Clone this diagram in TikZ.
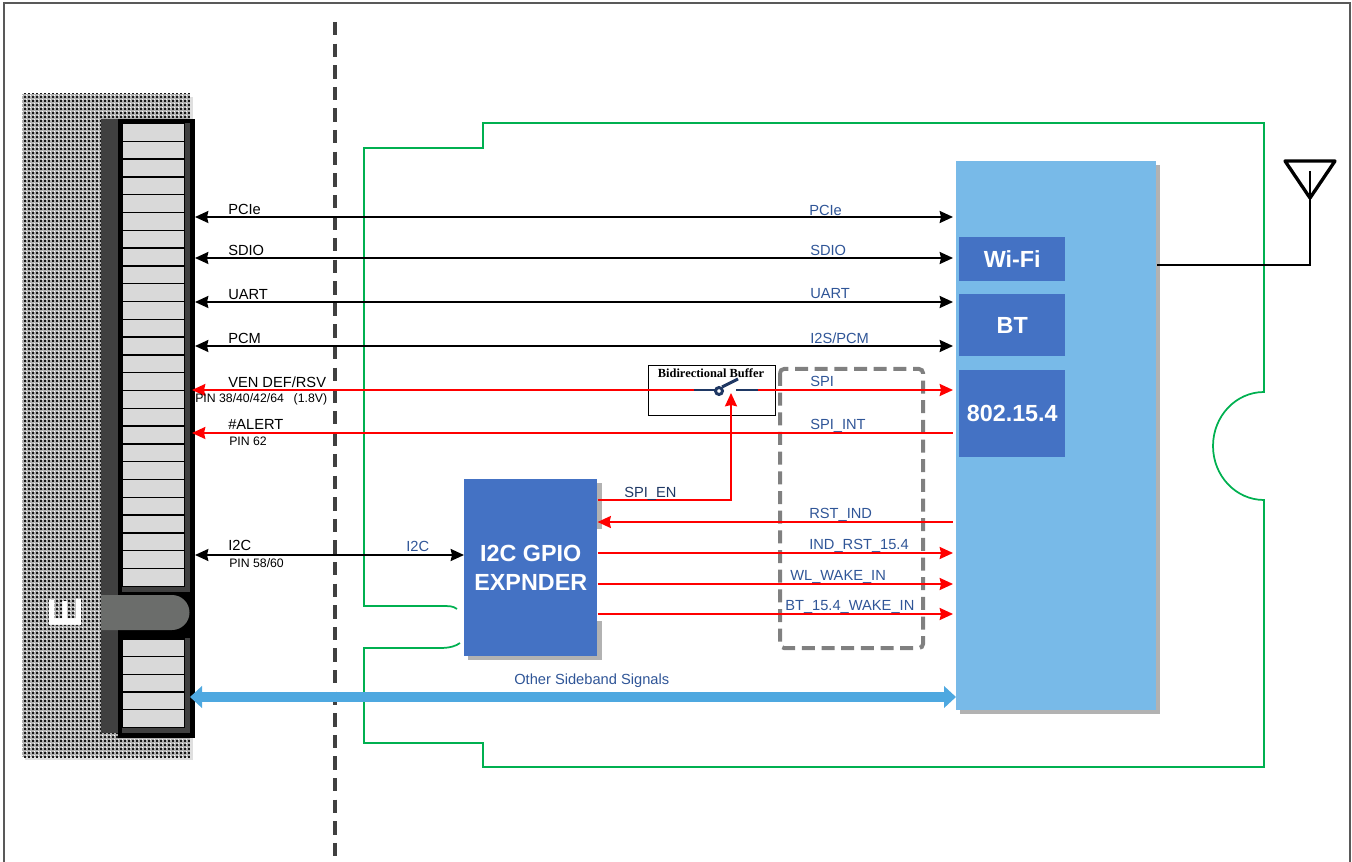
\documentclass[tikz,border=0pt]{standalone}
\usepackage{fontspec}
\setmainfont{Liberation Sans}
\newfontfamily\serifbold{Liberation Serif}
\usetikzlibrary{arrows.meta,patterns}
\definecolor{frameGray}{HTML}{595959}
\definecolor{slotGray}{HTML}{D9D9D9}
\definecolor{keyGray}{HTML}{6B6D6B}
\definecolor{chipBlue}{HTML}{4472C4}
\definecolor{moduleBlue}{HTML}{78BAE8}
\definecolor{busBlue}{HTML}{4EA8E0}
\definecolor{labelBlue}{HTML}{2F5597}
\definecolor{outlineGreen}{HTML}{00B050}
\definecolor{switchNavy}{HTML}{1F3864}
\pgfdeclarepatternformonly{ditherdark}{\pgfqpoint{0pt}{0pt}}{\pgfqpoint{3pt}{3pt}}{\pgfqpoint{3pt}{3pt}}{
	\pgfpathrectangle{\pgfqpoint{0pt}{0pt}}{\pgfqpoint{1.8pt}{1.8pt}}
	\pgfusepath{fill}
}
\pgfdeclarepatternformonly{ditherlight}{\pgfqpoint{0pt}{0pt}}{\pgfqpoint{3pt}{3pt}}{\pgfqpoint{3pt}{3pt}}{
	\pgfpathrectangle{\pgfqpoint{2pt}{2pt}}{\pgfqpoint{0.6pt}{0.6pt}}
	\pgfusepath{fill}
}
\tikzset{
	sig/.style={font=\fontsize{11pt}{12pt}\selectfont, anchor=west, inner sep=0pt},
	blacklabel/.style={sig, black},
	bluelabel/.style={sig, labelBlue},
	pinlabel/.style={font=\fontsize{9.2pt}{10pt}\selectfont, anchor=west, inner sep=0pt},
	chip/.style={fill=chipBlue, text=white, font=\fontsize{17.5pt}{21.75pt}\selectfont\bfseries, align=center, inner sep=0pt, anchor=north west},
	blackbus/.style={<->, line width=1.5pt, black},
	redbus/.style={line width=1.5pt, red},
	slot/.style={fill=slotGray, draw=black, line width=1pt},
	switchline/.style={switchNavy, line width=2.2pt}
}
\begin{document}
\begin{tikzpicture}[x=0.75pt, y=-0.75pt, line join=miter, >={Stealth[length=10pt, width=9pt, inset=1pt]}]
	\useasboundingbox (0,0) rectangle (1352,862);
	% Khung ngoai
	\draw[frameGray, line width=2pt] (4,862) -- (4,3) -- (1350,3) -- (1350,862);
	% Duong phan cach
	\draw[black!75, line width=3.2pt, dash pattern=on 10pt off 6.2pt] (335,22) -- (335,862);
	% Dau noi M.2
	\fill[gray!25] (25,97) rectangle (193,760);
	\fill[gray!60] (22,94) rectangle (190,757);
	\fill[pattern=ditherdark, pattern color=black!90] (22,94) rectangle (190,757);
	\fill[pattern=ditherlight, pattern color=white] (22,94) rectangle (190,757);
	\fill[black!75] (101,119) rectangle (118,733);
	\fill[black] (118,119) rectangle (195,738);
	\fill[black!75] (122,123) rectangle (190,592);
	\fill[black!75] (122,638) rectangle (190,733);
	\foreach \i in {0,...,25}
		\draw[slot] (122.5,{123.5+17.8*\i}) rectangle (184.5,{123.5+17.8*(\i+1)});
	\foreach \i in {0,...,4}
		\draw[slot] (122.5,{639+17.7*\i}) rectangle (184.5,{639+17.7*(\i+1)});
	\fill[keyGray] (101,595) -- (172,595) arc[start angle=-90, end angle=90, radius=17.5] -- (101,630) -- cycle;
	\node[rotate=90, text=white, font=\fontsize{35pt}{35pt}\selectfont\bfseries, inner sep=0pt] (keyE) at (65,613) {E};
	% Vien module
	\draw[outlineGreen, line width=1.3pt] (457,609) .. controls (453,606) and (450,606) .. (440,606) -- (364,606) -- (364,148) -- (483,148) -- (483,123) -- (1264,123) -- (1264,392) arc[start angle=270, end angle=90, x radius=51, y radius=54] -- (1264,767) -- (483,767) -- (483,743) -- (364,743) -- (364,648) -- (440,648) .. controls (450,648) and (456,646) .. (460,643);
	% Khoi WLAN va GPIO
	\fill[gray!60] (960,165) rectangle (1160,714);
	\node[fill=moduleBlue, minimum width=150pt, minimum height=411.75pt, inner sep=0pt, anchor=north west] (wlan) at (956,161) {};
	\node[chip, minimum width=79.5pt, minimum height=33pt] (wifi) at (959,237) {Wi-Fi};
	\node[chip, minimum width=79.5pt, minimum height=46.5pt] (bt) at (959,294) {BT};
	\node[chip, minimum width=79.5pt, minimum height=65.25pt] (zigbee) at (959,370) {802.15.4};
	\fill[gray!60] (468,483) rectangle (602,660);
	\fill[white] (597,529) rectangle (606,621);
	\node[chip, minimum width=99.75pt, minimum height=132.75pt] (gpio) at (464,479) {I2C GPIO\\EXPNDER};
	% Hop dut SPI
	\draw[gray, line width=3pt, rounded corners=3pt, dash pattern=on 9.75pt off 5pt] (780,369) rectangle (923,648);
	% Bo dem hai chieu
	\node[draw=black, line width=1pt, fill=white, minimum width=95.25pt, minimum height=37.5pt, inner sep=0pt, anchor=north west] (buffer) at (648,365) {};
	\node[font=\fontsize{9.3pt}{10pt}\selectfont\serifbold\bfseries, inner sep=0pt] (bufferlabel) at (711,373) {Bidirectional Buffer};
	% Cac toa do dau day
	\coordinate (hostPcie) at (195,217);
	\coordinate (hostSdio) at (195,258);
	\coordinate (hostUart) at (195,302);
	\coordinate (hostPcm) at (195,346);
	\coordinate (hostSpi) at (192,390);
	\coordinate (hostAlert) at (192,433);
	\coordinate (hostIic) at (195,555);
	\coordinate (hostBand) at (190,697);
	\coordinate (swIn) at (694,390);
	\coordinate (swOut) at (758,390);
	\coordinate (swCtl) at (731,393);
	\coordinate (wlanEnd) at (953,0);
	% Bus den
	\foreach \a in {hostPcie,hostSdio,hostUart,hostPcm}
		\draw[blackbus] (\a) -- (\a -| wlanEnd);
	\draw[blackbus] (hostIic) -- (gpio.west |- hostIic);
	% Bus do
	\draw[redbus, <-] (hostSpi) -- (swIn);
	\draw[redbus, ->] (swOut) -- (swOut -| wlanEnd);
	\draw[redbus, <-] (hostAlert) -- (hostAlert -| wlanEnd);
	\draw[redbus, ->] (gpio.east |- 0,500) -- (swCtl |- 0,500) -- (swCtl);
	\draw[redbus, <-] (gpio.east |- 0,522) -- (wlanEnd |- 0,522);
	\draw[redbus, ->] (gpio.east |- 0,553) -- (wlanEnd |- 0,553);
	\draw[redbus, ->] (gpio.east |- 0,584) -- (wlanEnd |- 0,584);
	\draw[redbus, ->] (gpio.east |- 0,614) -- (wlanEnd |- 0,614);
	% Bus xanh
	\draw[busBlue, line width=8pt, {Stealth[length=9pt, width=16pt, inset=0pt]}-{Stealth[length=9pt, width=16pt, inset=0pt]}] (hostBand) -- (wlan.west |- hostBand);
	% Cong tac
	\draw[switchline] (swIn) -- (716,390);
	\draw[switchline] (719,391) circle[radius=3.5];
	\draw[switchline] (722,387) -- (738,379);
	\draw[switchline] (736,390) -- (swOut);
	% Anten
	\draw[line width=2.5pt, line join=round] (1285,161) -- (1335,161) -- (1310,198) -- cycle;
	\coordinate (antTop) at (1310,171);
	\draw[line width=1pt] (antTop) -- (antTop |- 0,265) -- (wlan.east |- 0,265);
	% Nhan tin hieu
	\node[blacklabel] (lPcie) at (228,209) {PCIe};
	\node[blacklabel] (lSdio) at (228,250) {SDIO};
	\node[blacklabel] (lUart) at (228,295) {UART};
	\node[blacklabel] (lPcm) at (228,338) {PCM};
	\node[blacklabel] (lVen) at (228,382) {VEN DEF/RSV};
	\node[pinlabel] (lVenPin) at (195,399) {PIN 38/40/42/64\hspace{0.8em}(1.8V)};
	\node[blacklabel] (lAlert) at (228,424) {\#ALERT};
	\node[pinlabel] (lAlertPin) at (229,441) {PIN 62};
	\node[blacklabel] (lIic) at (228,545) {I2C};
	\node[pinlabel] (lIicPin) at (229,563) {PIN 58/60};
	\node[bluelabel] (rPcie) at (809,210) {PCIe};
	\node[bluelabel] (rSdio) at (810,250) {SDIO};
	\node[bluelabel] (rUart) at (810,294) {UART};
	\node[bluelabel] (rPcm) at (810,338) {I2S/PCM};
	\node[bluelabel] (rSpi) at (810,381) {SPI};
	\node[bluelabel] (rInt) at (810,426) {SPI\_INT};
	\node[bluelabel] (rRst) at (809,515) {RST\_IND};
	\node[bluelabel] (rInd) at (809,546) {IND\_RST\_15.4};
	\node[bluelabel] (rWl) at (790,577) {WL\_WAKE\_IN};
	\node[bluelabel] (rBt) at (785,607) {BT\_15.4\_WAKE\_IN};
	\node[bluelabel, switchNavy] (lEn) at (624,494) {SPI\_EN};
	\node[bluelabel] (lGpio) at (406,546) {I2C};
	\node[bluelabel] (lBand) at (514,681) {Other Sideband Signals};
\end{tikzpicture}
\end{document}
